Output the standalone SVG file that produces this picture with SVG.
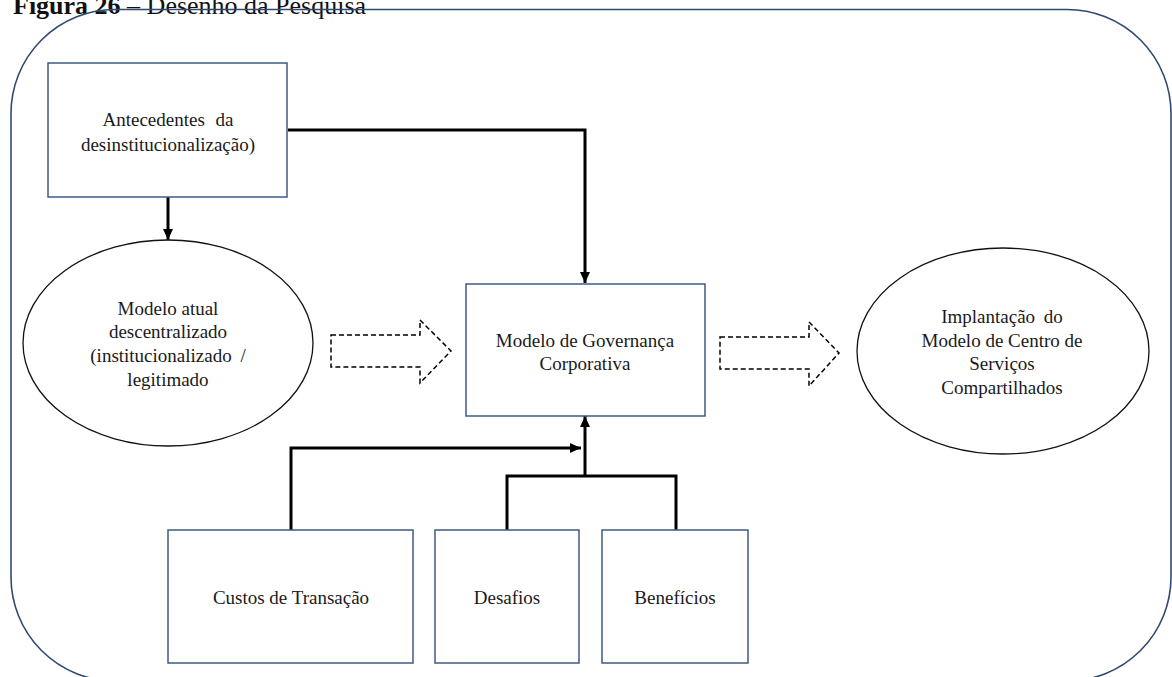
<svg xmlns="http://www.w3.org/2000/svg" width="1172" height="677" viewBox="0 0 1172 677">
  <style>
    .t { font-family: "Liberation Serif", "Times New Roman", serif; fill: #1a1a1a; text-anchor: middle; font-size: 19px; }
    .box { fill: #ffffff; stroke: #3f5a82; stroke-width: 1.5; }
    .ell { fill: #ffffff; stroke: #111111; stroke-width: 1.3; }
    .conn { fill: none; stroke: #000000; stroke-width: 3; }
    .dash { fill: #ffffff; stroke: #000000; stroke-width: 1.5; stroke-dasharray: 5 3; }
  </style>
  <defs>
    <marker id="ah" markerUnits="userSpaceOnUse" markerWidth="12" markerHeight="12" viewBox="0 0 12 12" refX="11" refY="6" orient="auto">
      <path d="M0,1 L11,6 L0,11 Z" fill="#000000"/>
    </marker>
  </defs>

  <rect x="0" y="0" width="1172" height="677" fill="#ffffff"/>

  <!-- caption -->
  <text x="13" y="14" font-family="Liberation Serif, serif" font-size="26" fill="#111111"><tspan font-weight="bold">Figura 26</tspan> – Desenho da Pesquisa</text>

  <!-- outer frame -->
  <rect id="frame" x="11" y="9.5" width="1160" height="671.5" rx="104" ry="104" fill="none" stroke="#2f4a72" stroke-width="1.6"/>

  <!-- connectors -->
  <g id="connectors">
    <path class="conn" d="M288,130 H585 V283" marker-end="url(#ah)"/>
    <path class="conn" d="M168,197 V240" marker-end="url(#ah)"/>
    <path class="conn" d="M291,530 V448 H581" marker-end="url(#ah)"/>
    <path class="conn" d="M507,530 V476 H676 V530"/>
    <path class="conn" d="M585,476 V416" marker-end="url(#ah)"/>
    <polygon class="dash" points="331,335 420,335 420,320 451,351 420,383 420,367 331,367"/>
    <polygon class="dash" points="720,337 809,337 809,322 839,353 809,386 809,369 720,369"/>
  </g>

  <g id="antecedentes">
    <rect class="box" x="48" y="63" width="239" height="134"/>
    <text class="t" x="168" y="126" word-spacing="6">Antecedentes da</text>
    <text class="t" x="168" y="151">desinstitucionalização)</text>
  </g>

  <g id="modelo-atual">
    <ellipse class="ell" cx="168" cy="343" rx="145" ry="103"/>
    <text class="t" x="168" y="315">Modelo atual</text>
    <text class="t" x="168" y="338">descentralizado</text>
    <text class="t" x="168" y="362" word-spacing="4">(institucionalizado /</text>
    <text class="t" x="168" y="386">legitimado</text>
  </g>

  <g id="governanca">
    <rect class="box" x="466" y="284" width="239" height="132"/>
    <text class="t" x="585" y="347">Modelo de Governança</text>
    <text class="t" x="585" y="370">Corporativa</text>
  </g>

  <g id="implantacao">
    <ellipse class="ell" cx="1003" cy="351" rx="146" ry="103"/>
    <text class="t" x="1002" y="323" word-spacing="4">Implantação do</text>
    <text class="t" x="1002" y="347">Modelo de Centro de</text>
    <text class="t" x="1002" y="370">Serviços</text>
    <text class="t" x="1002" y="394">Compartilhados</text>
  </g>

  <g id="custos">
    <rect class="box" x="168" y="530" width="245" height="133"/>
    <text class="t" x="291" y="604">Custos de Transação</text>
  </g>

  <g id="desafios">
    <rect class="box" x="435" y="530" width="144" height="133"/>
    <text class="t" x="507" y="604">Desafios</text>
  </g>

  <g id="beneficios">
    <rect class="box" x="602" y="530" width="146" height="133"/>
    <text class="t" x="675" y="604">Benefícios</text>
  </g>
</svg>
